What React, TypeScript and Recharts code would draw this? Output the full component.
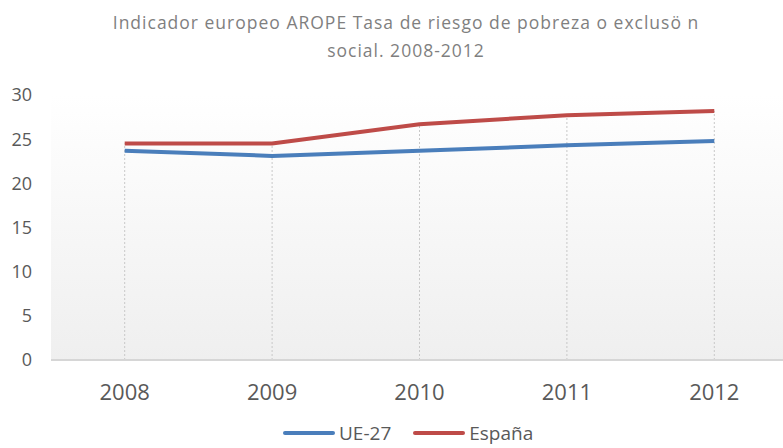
import { CartesianGrid, Legend, Line, LineChart, ReferenceLine, XAxis, YAxis } from "recharts";

const years = ["2008", "2009", "2010", "2011", "2012"];
const ue27 = [23.7, 23.1, 23.7, 24.3, 24.8];
const espana = [24.5, 24.5, 26.7, 27.7, 28.2];
const yTicks = [0, 5, 10, 15, 20, 25, 30];

const BLUE = "#4a7ebb";
const RED = "#be4b48";
const FONT = "'Open Sans', sans-serif";

const data = years.map((year, i) => ({
  year,
  ue27: ue27[i],
  espana: espana[i],
  top: Math.max(ue27[i], espana[i]),
}));

function LegendContent() {
  const items = [
    { name: "UE-27", color: BLUE },
    { name: "España", color: RED },
  ];
  return (
    <div style={{ display: "flex", alignItems: "center", height: 28, fontFamily: FONT, fontSize: 19, color: "#595959" }}>
      {items.map((item) => (
        <div key={item.name} style={{ display: "flex", alignItems: "center", marginRight: 22 }}>
          <span style={{ display: "inline-block", width: 52, height: 4, borderRadius: 2, background: item.color, marginRight: 4 }} />
          <span>{item.name}</span>
        </div>
      ))}
    </div>
  );
}

export default function App() {
  return (
    <div style={{ position: "fixed", left: 0, top: 0, width: 783, height: 448, overflow: "hidden", background: "#fff" }}>
      <div
        style={{
          position: "absolute",
          left: 0,
          top: 8,
          width: 812,
          textAlign: "center",
          fontFamily: FONT,
          fontSize: 17.5,
          letterSpacing: 1,
          lineHeight: "28px",
          color: "#7f7f7f",
        }}
      >
        Indicador europeo AROPE Tasa de riesgo de pobreza o exclusö n
        <br />
        social. 2008-2012
      </div>
      <LineChart width={790} height={448} data={data} margin={{ top: 95, right: 2, bottom: 10, left: 0 }}>
        <defs>
          <linearGradient id="plotBg" x1="0" y1="0" x2="0" y2="1">
            <stop offset="0%" stopColor="#ffffff" />
            <stop offset="100%" stopColor="#efefef" />
          </linearGradient>
        </defs>
        <CartesianGrid horizontal={false} vertical={false} fill="url(#plotBg)" fillOpacity={1} stroke="none" />
        <XAxis
          dataKey="year"
          height={50}
          padding={{ left: 73.7, right: 73.7 }}
          axisLine={{ stroke: "#d6d6d6", strokeWidth: 2 }}
          tickLine={false}
          tickSize={0}
          tickMargin={24}
          tick={{ fill: "#595959", fontSize: 22, fontFamily: FONT }}
        />
        <YAxis
          domain={[0, 30]}
          ticks={yTicks}
          width={51}
          axisLine={false}
          tickLine={false}
          tickSize={0}
          tickMargin={19}
          tick={{ fill: "#595959", fontSize: 18, fontFamily: FONT }}
        />
        {data.map((d) => (
          <ReferenceLine
            key={d.year}
            segment={[
              { x: d.year, y: 0 },
              { x: d.year, y: d.top },
            ]}
            stroke="#c8c8c8"
            strokeDasharray="2 2"
            strokeWidth={1}
          />
        ))}
        <Line type="linear" dataKey="ue27" name="UE-27" stroke={BLUE} strokeWidth={4} dot={false} isAnimationActive={false} />
        <Line type="linear" dataKey="espana" name="España" stroke={RED} strokeWidth={4} dot={false} isAnimationActive={false} />
        <Legend
          verticalAlign="bottom"
          content={() => <LegendContent />}
          wrapperStyle={{ left: 283, top: 419, bottom: "auto", width: "auto", height: 28 }}
        />
      </LineChart>
    </div>
  );
}
